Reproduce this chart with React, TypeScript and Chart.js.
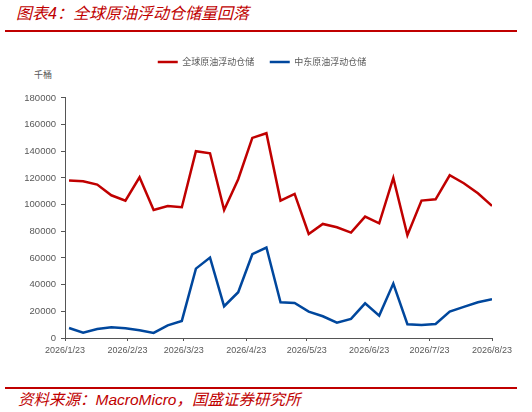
import React, { useEffect, useRef } from "react";
import { Chart, registerables } from "chart.js";

Chart.register(...registerables);

const dates = [
  "2026-01-25", "2026-02-01", "2026-02-08", "2026-02-15", "2026-02-22",
  "2026-03-01", "2026-03-08", "2026-03-15", "2026-03-22", "2026-03-29",
  "2026-04-05", "2026-04-12", "2026-04-19", "2026-04-26", "2026-05-03",
  "2026-05-10", "2026-05-17", "2026-05-24", "2026-05-31", "2026-06-07",
  "2026-06-14", "2026-06-21", "2026-06-28", "2026-07-05", "2026-07-12",
  "2026-07-19", "2026-07-26", "2026-08-02", "2026-08-09", "2026-08-16",
  "2026-08-23",
];

const globalStorage = [
  118000, 117500, 115000, 107000, 103000, 120500, 96000, 99000, 98000, 140000,
  138500, 96000, 119000, 150000, 153500, 103000, 108000, 78000, 85500, 83000,
  79000, 91000, 86000, 120000, 77000, 103000, 104000, 122000, 116000, 108500,
  99000,
];

const middleEastStorage = [
  7500, 4000, 6800, 8000, 7300, 5800, 3800, 9500, 12800, 52000,
  60300, 23800, 34300, 62800, 67800, 26800, 26300, 19800, 16300, 11500,
  14300, 26000, 16800, 40800, 10300, 9800, 10500, 19800, 23300, 26800,
  29000,
];

const tickLabels = [
  "2026/1/23", "2026/2/23", "2026/3/23", "2026/4/23",
  "2026/5/23", "2026/6/23", "2026/7/23", "2026/8/23",
];

const seriesNames = ["全球原油浮动仓储", "中东原油浮动仓储"];
const seriesColors = ["#c00000", "#00479d"];
const yMax = 180000;
const yStep = 20000;

const DAY = 86400000;
const BASE = Date.UTC(2026, 0, 23);
function dayOf(s: string): number {
  const [y, m, d] = s.split(/[-/]/).map(Number);
  return Math.round((Date.UTC(y, m - 1, d) - BASE) / DAY);
}

const tickDays = tickLabels.map(dayOf);

const legendTweak = {
  id: "legendTweak",
  beforeInit(chart: any) {
    const legend = chart.legend;
    if (!legend) return;
    const origFit = legend.fit;
    legend.fit = function () {
      origFit.call(legend);
      legend.height += 21.4;
    };
  },
  beforeDraw(chart: any) {
    const lg = chart.legend;
    if (!lg) return;
    const w = lg.right - lg.left;
    lg.left = 16;
    lg.right = 16 + w;
  },
};

export default function App() {
  const canvasRef = useRef<HTMLCanvasElement | null>(null);

  useEffect(() => {
    const canvas = canvasRef.current;
    if (!canvas) return;
    const tickColor = "#595959";
    const axisColor = "#555555";
    const chart = new Chart(canvas, {
      type: "line",
      data: {
        datasets: [
          {
            label: seriesNames[0],
            data: dates.map((d, i) => ({ x: dayOf(d), y: globalStorage[i] })),
            borderColor: seriesColors[0],
            backgroundColor: seriesColors[0],
            borderWidth: 2.5,
            pointRadius: 0,
            tension: 0,
          },
          {
            label: seriesNames[1],
            data: dates.map((d, i) => ({ x: dayOf(d), y: middleEastStorage[i] })),
            borderColor: seriesColors[1],
            backgroundColor: seriesColors[1],
            borderWidth: 2.5,
            pointRadius: 0,
            tension: 0,
          },
        ],
      },
      options: {
        animation: false,
        responsive: false,
        maintainAspectRatio: false,
        layout: { padding: { left: 0, right: 40, top: 0, bottom: 0 } },
        plugins: {
          legend: {
            display: true,
            position: "top",
            labels: {
              usePointStyle: true,
              pointStyle: "line",
              pointStyleWidth: 20,
              boxWidth: 20,
              padding: 15.5,
              color: tickColor,
              font: { family: "'Noto Sans CJK SC'", size: 9 },
            },
          },
          tooltip: { enabled: false },
        },
        scales: {
          x: {
            type: "linear",
            min: 0,
            max: tickDays[tickDays.length - 1],
            afterBuildTicks: (scale: any) => {
              scale.ticks = tickDays.map((v) => ({ value: v }));
            },
            afterFit: (scale: any) => {
              scale.height = 22;
            },
            ticks: {
              autoSkip: false,
              maxRotation: 0,
              minRotation: 0,
              padding: 4,
              color: tickColor,
              font: { family: "'Liberation Sans'", size: 9 },
              callback: (_v: any, i: number) => tickLabels[i],
            },
            grid: {
              display: true,
              drawOnChartArea: false,
              drawTicks: true,
              tickLength: 3,
              color: axisColor,
            },
            border: { display: true, color: axisColor, width: 1 },
          },
          y: {
            min: 0,
            max: yMax,
            afterFit: (scale: any) => {
              scale.width = 65;
            },
            ticks: {
              stepSize: yStep,
              padding: 5,
              color: tickColor,
              font: { family: "'Liberation Sans'", size: 9.5 },
              callback: (v: any) => String(v),
            },
            grid: {
              display: true,
              drawOnChartArea: false,
              drawTicks: true,
              tickLength: 4,
              color: axisColor,
            },
            border: { display: true, color: axisColor, width: 1 },
          },
        },
      },
      plugins: [legendTweak],
    } as any);
    return () => chart.destroy();
  }, []);

  const red = "#c00000";
  return (
    <div
      style={{
        position: "fixed",
        left: 0,
        top: 0,
        width: 532,
        height: 412,
        background: "#ffffff",
        overflow: "hidden",
      }}
    >
      <div
        style={{
          position: "absolute",
          left: 16,
          top: 4,
          lineHeight: "20px",
          fontSize: 16,
          fontStyle: "italic",
          color: red,
          fontFamily: "'Liberation Sans', 'Noto Sans CJK SC'",
          whiteSpace: "nowrap",
        }}
      >
        图表4：全球原油浮动仓储量回落
      </div>
      <div
        style={{ position: "absolute", left: 5, top: 30, width: 512, height: 2, background: red }}
      />
      <div
        style={{
          position: "absolute",
          left: 34,
          top: 69,
          lineHeight: "12px",
          fontSize: 9,
          color: "#595959",
          fontFamily: "'Noto Sans CJK SC'",
        }}
      >
        千桶
      </div>
      <canvas
        ref={canvasRef}
        width={532}
        height={318}
        style={{ position: "absolute", left: 0, top: 42, width: 532, height: 318 }}
      />
      <div
        style={{ position: "absolute", left: 5, top: 387, width: 512, height: 2, background: red }}
      />
      <div
        style={{
          position: "absolute",
          left: 18,
          top: 390,
          lineHeight: "20px",
          fontSize: 15.5,
          fontStyle: "italic",
          color: red,
          fontFamily: "'Liberation Sans', 'Noto Sans CJK SC'",
          whiteSpace: "nowrap",
        }}
      >
        资料来源：MacroMicro，国盛证券研究所
      </div>
    </div>
  );
}
